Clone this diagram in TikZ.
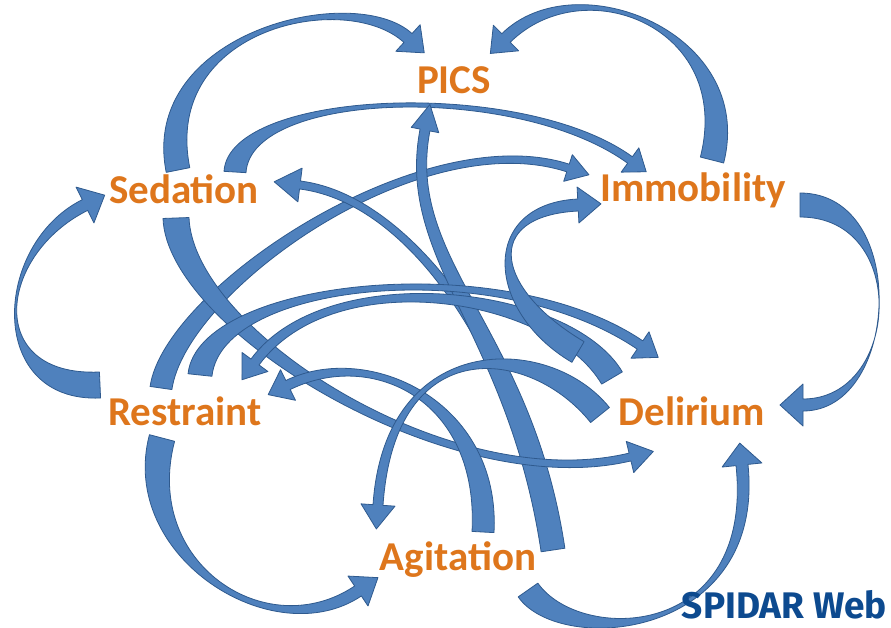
\documentclass[tikz,border=0pt]{standalone}
\usepackage{fontspec}
\setmainfont{Carlito}
\newfontfamily\spidarfont{Fira Sans}
\usetikzlibrary{calc}
\definecolor{arrfill}{HTML}{4F81BD}
\definecolor{arrline}{HTML}{2F5A8E}
\definecolor{lblc}{HTML}{DE761C}
\definecolor{webc}{HTML}{0D4A8F}
% #1 tail, #2 ctrl1, #3 ctrl2, #4 head base, #5 tail half width, #6 shaft end half width, #7 head half width, #8 head length
\newcommand\carrow[8]{%
  \coordinate (aS) at #1;
  \coordinate (aA) at #2;
  \coordinate (aB) at #3;
  \coordinate (aE) at #4;
  \coordinate (aT) at ($(aE)!#8pt!180:(aB)$);
  \coordinate (aSL) at ($(aS)!#5pt!90:(aA)$);
  \coordinate (aSR) at ($(aS)!#5pt!-90:(aA)$);
  \coordinate (aEL) at ($(aE)!#6pt!-90:(aB)$);
  \coordinate (aER) at ($(aE)!#6pt!90:(aB)$);
  \coordinate (aHL) at ($(aE)!#7pt!-90:(aB)$);
  \coordinate (aHR) at ($(aE)!#7pt!90:(aB)$);
  \coordinate (aAL) at ($(aA)+(aSL)-(aS)$);
  \coordinate (aAR) at ($(aA)+(aSR)-(aS)$);
  \coordinate (aBL) at ($(aB)+(aEL)-(aE)$);
  \coordinate (aBR) at ($(aB)+(aER)-(aE)$);
  \filldraw[arrow] (aSL) .. controls (aAL) and (aBL) .. (aEL) -- (aHL) -- (aT) -- (aHR) -- (aER)
     .. controls (aBR) and (aAR) .. (aSR) -- cycle;
}
\begin{document}
\begin{tikzpicture}[x=1pt,y=-1pt,
  arrow/.style={fill=arrfill,draw=arrline,line width=0.8pt,line join=round},
  lbl/.style={anchor=base,text=lblc,font=\fontsize{41}{41}\selectfont\bfseries,inner sep=0pt},
  web/.style={anchor=base east,text=webc,font=\spidarfont\fontsize{37}{37}\selectfont\bfseries,inner sep=0pt}]
\useasboundingbox[fill=white] (0,0) rectangle (891,627);

% outer ring
\carrow{(178,170)}{(150,30)}{(350,-15)}{(408,38)}{12}{6}{18}{22}   % Sedation -> PICS
\carrow{(712,160)}{(745,30)}{(580,-35)}{(506,38)}{12}{6}{18}{22}   % Immobility -> PICS
\carrow{(800,205)}{(910,205)}{(900,405)}{(803,405)}{12}{6}{21}{23} % Immobility -> Delirium
\carrow{(528,590)}{(570,650)}{(760,640)}{(742,465)}{12}{6}{20}{22} % Agitation -> Delirium
\carrow{(162,438)}{(130,560)}{(270,650)}{(358,591)}{13}{6}{18}{24} % Restraint -> Agitation
\carrow{(100,385)}{(-15,390)}{(-5,250)}{(85,205)}{13}{6}{20}{22}   % Restraint -> Sedation

% inner arrows
\carrow{(235,172)}{(240,90)}{(520,80)}{(630,160)}{11}{4}{15}{20}   % Sedation -> Immobility
\carrow{(161,388)}{(175,290)}{(420,120)}{(568,168)}{11}{4}{14}{22} % Restraint -> Immobility
\carrow{(550,545)}{(530,380)}{(420,200)}{(300,185)}{8}{4}{17}{26}  % Agitation -> Sedation
\carrow{(553,550)}{(520,330)}{(400,260)}{(425,130)}{12}{5}{14}{26} % Agitation -> PICS
\carrow{(176,218)}{(180,330)}{(450,500)}{(630,457)}{13}{4}{16}{24} % Sedation -> Delirium
\carrow{(200,375)}{(210,280)}{(500,250)}{(640,345)}{12}{5}{16}{22} % Restraint -> Delirium
\carrow{(612,378)}{(560,290)}{(330,260)}{(255,362)}{12}{5}{16}{22} % Delirium -> Restraint
\carrow{(483,532)}{(490,400)}{(370,345)}{(288,385)}{11}{5}{17}{22} % Agitation -> Restraint
\carrow{(600,415)}{(540,340)}{(390,330)}{(378,505)}{12}{5}{17}{24} % Delirium -> Agitation
\carrow{(578,352)}{(490,300)}{(480,210)}{(578,205)}{12}{6}{18}{23} % Delirium -> Immobility

% labels
\node[lbl] (pics) at (454,93) {PICS};
\node[lbl] (sed) at (184,203) {Sedation};
\node[lbl] (imm) at (693,201) {Immobility};
\node[lbl] (res) at (185,425) {Restraint};
\node[lbl] (del) at (692,425) {Delirium};
\node[lbl] (agi) at (458,570) {Agitation};
\node[web] (brand) at (887,618) {SPIDAR Web};
\end{tikzpicture}
\end{document}
